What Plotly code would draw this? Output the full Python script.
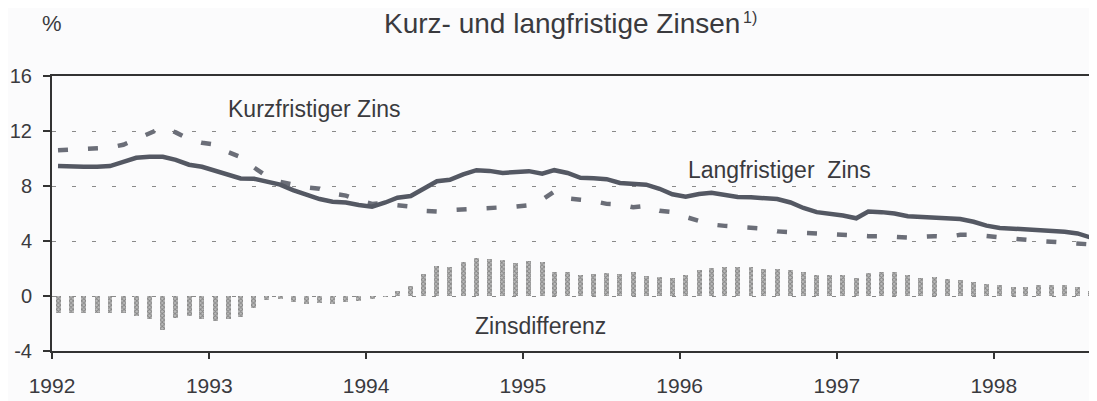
import pandas as pd
import plotly.graph_objects as go

# Monthly observations, Jan 1992 - Aug 1998 (plotted mid-month)
months = pd.date_range("1992-01-01", periods=80, freq="MS") + pd.Timedelta(days=14)

long_rate = [9.45, 9.4, 9.4, 9.4, 9.45, 9.75, 10.05, 10.12, 10.12, 9.9, 9.55, 9.4,
             9.1, 8.75, 8.55, 8.53, 8.35, 8.1, 7.7, 7.35, 7.05, 6.86, 6.8, 6.62,
             6.5, 6.8, 7.15, 7.27, 7.8, 8.35, 8.45, 8.85, 9.15, 9.1, 8.95, 9.0,
             9.08, 8.9, 9.15, 8.95, 8.6, 8.56, 8.5, 8.22, 8.15, 8.1, 7.8, 7.4,
             7.22, 7.42, 7.5, 7.33, 7.2, 7.18, 7.12, 7.05, 6.8, 6.4, 6.1, 5.98,
             5.85, 5.65, 6.15, 6.1, 6.0, 5.8, 5.75, 5.7, 5.62, 5.6, 5.4, 5.12,
             4.95, 4.9, 4.88, 4.85, 4.75, 4.68, 4.55, 4.25]

short_rate = [10.6, 10.65, 10.7, 10.75, 10.8, 11.0, 11.4, 11.85, 12.25, 11.9, 11.4, 11.15,
              11.0, 10.45, 10.1, 9.35, 8.7, 8.3, 8.1, 7.9, 7.8, 7.45, 7.3, 6.95,
              6.7, 6.75, 6.6, 6.5, 6.2, 6.15, 6.25, 6.3, 6.3, 6.35, 6.4, 6.5,
              6.6, 7.0, 7.6, 7.1, 7.0, 6.9, 6.7, 6.65, 6.45, 6.55, 6.2, 6.1,
              5.75, 5.45, 5.2, 5.1, 5.05, 4.95, 4.9, 4.7, 4.65, 4.55, 4.5, 4.45,
              4.45, 4.4, 4.35, 4.35, 4.3, 4.25, 4.3, 4.35, 4.3, 4.45, 4.45, 4.35,
              4.25, 4.15, 4.05, 4.0, 3.95, 3.88, 3.85, 3.75]

spread = [-1.2, -1.25, -1.25, -1.2, -1.25, -1.25, -1.45, -1.65, -2.5, -1.6, -1.45, -1.7,
          -1.8, -1.65, -1.55, -0.9, -0.3, -0.25, -0.4, -0.55, -0.5, -0.6, -0.45, -0.35,
          -0.2, -0.05, 0.4, 0.73, 1.58, 2.2, 2.13, 2.47, 2.8, 2.67, 2.6, 2.42,
          2.52, 2.45, 1.75, 1.72, 1.56, 1.58, 1.68, 1.6, 1.75, 1.48, 1.4, 1.32,
          1.52, 1.86, 2.05, 2.1, 2.1, 2.1, 1.96, 1.96, 1.9, 1.72, 1.52, 1.5,
          1.5, 1.3, 1.7, 1.75, 1.75, 1.5, 1.3, 1.4, 1.27, 1.15, 1.02, 0.9,
          0.78, 0.66, 0.66, 0.83, 0.83, 0.78, 0.68, 0.4]

year_ticks = ["1992-01-01", "1993-01-01", "1994-01-01", "1995-01-01",
              "1996-01-01", "1997-01-01", "1998-01-01"]
year_labels = ["1992", "1993", "1994", "1995", "1996", "1997", "1998"]
y_ticks = [-4, 0, 4, 8, 12, 16]

FONT = "Liberation Sans, Arial, Helvetica, sans-serif"
TXT = "#3a3a3e"

fig = go.Figure()

fig.add_trace(go.Bar(
    x=months, y=spread, width=1.0e9,
    marker=dict(color="#9a9a9a", line=dict(width=0),
                pattern=dict(shape="x", fgcolor="#4a4a4a", bgcolor="#bdbdbd",
                             size=3, solidity=0.5)),
    showlegend=False, hoverinfo="skip"))

fig.add_trace(go.Scatter(
    x=months, y=short_rate, mode="lines",
    line=dict(color="#6b6e78", width=4.5, dash="10px,20px"),
    showlegend=False))

fig.add_trace(go.Scatter(
    x=months, y=long_rate, mode="lines",
    line=dict(color="#545863", width=4.5),
    showlegend=False))

# the page adds an 8px body margin, so the figure is 8px smaller and margins shifted
fig.update_layout(
    width=1089, height=393,
    margin=dict(l=44, r=1, t=68, b=50, autoexpand=False),
    paper_bgcolor="#fbfbfc", plot_bgcolor="#fbfbfc",
    font=dict(family=FONT, color=TXT, size=20),
    bargap=0,
)

fig.update_xaxes(
    type="date", range=["1992-01-01", "1998-08-27"],
    tickvals=year_ticks, ticktext=year_labels,
    ticks="outside", ticklen=6, tickwidth=1.5, tickcolor="#333",
    ticklabelstandoff=9, automargin=False,
    showline=True, linecolor="#333", linewidth=2, mirror=True,
    showgrid=False, zeroline=False,
    tickfont=dict(size=21, color=TXT),
)

fig.update_yaxes(
    range=[-4, 16], tickvals=y_ticks, ticktext=[str(v) for v in y_ticks],
    ticks="outside", ticklen=7, tickwidth=1.5, tickcolor="#333",
    ticklabelstandoff=7, automargin=False,
    showline=True, linecolor="#333", linewidth=2, mirror=True,
    showgrid=True, gridcolor="#8a8a8a", gridwidth=1, griddash="4px,16px",
    zeroline=False,
    tickfont=dict(size=20, color=TXT),
)

fig.add_annotation(text="Kurz- und langfristige Zinsen",
                   xref="paper", yref="paper", x=0.4885, y=1.19,
                   xanchor="center", yanchor="middle", showarrow=False,
                   font=dict(size=28, color=TXT))
fig.add_annotation(text="1)",
                   xref="paper", yref="paper", x=0.6605, y=1.246,
                   xanchor="left", yanchor="top", showarrow=False,
                   borderpad=0, font=dict(size=16, color=TXT))
fig.add_annotation(text="%", xref="paper", yref="paper", x=0.0, y=1.19,
                   xanchor="center", yanchor="middle", showarrow=False,
                   font=dict(size=22, color=TXT))
fig.add_annotation(text="Kurzfristiger Zins", x="1993-02-08", y=13.58,
                   xanchor="left", yanchor="middle", showarrow=False,
                   font=dict(size=23, color=TXT))
fig.add_annotation(text="Langfristiger\u00a0 Zins", x="1996-01-16", y=9.18,
                   xanchor="left", yanchor="middle", showarrow=False,
                   font=dict(size=23, color=TXT))
fig.add_annotation(text="Zinsdifferenz", x="1994-09-06", y=-2.18,
                   xanchor="left", yanchor="middle", showarrow=False,
                   font=dict(size=23, color=TXT))

fig.write_html("out.html")
